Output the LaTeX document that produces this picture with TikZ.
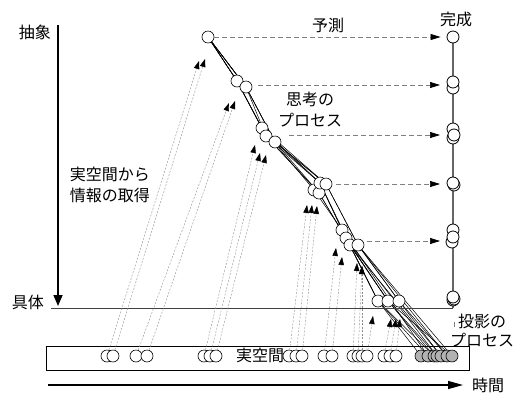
\documentclass[tikz,border=0pt]{standalone}
\usepackage{fontspec}
\newfontfamily\jp{Noto Sans CJK JP}
\usetikzlibrary{arrows.meta}
\pgfdeclarelayer{bg}
\pgfsetlayers{bg,main}
\begin{document}
\begin{tikzpicture}[x=1pt,y=-1pt,
  pt/.style={circle,draw,fill=white,minimum size=12pt,inner sep=0pt,line width=0.6pt},
  gpt/.style={pt,fill=black!30},
  rpt/.style={pt,line width=0.8pt},
  lbl/.style={font=\jp\fontsize{16}{19}\selectfont,inner sep=0pt},
  chain/.style={line width=0.5pt},
  info/.style={black!45,line width=0.4pt,dash pattern=on 2pt off 1.5pt,-{Triangle[length=8pt,width=5.5pt,color=black]}},
  pred/.style={black!50,line width=0.7pt,dash pattern=on 5pt off 3pt,-{Triangle[length=10pt,width=6pt,color=black]}},
  axis/.style={line width=1.6pt,-{Triangle[length=11pt,width=9pt]}},
]
\useasboundingbox (0,0) rectangle (515,392);

% ---- labels
\node[lbl] (abs) at (35,32) {抽象};
\node[lbl] (con) at (28,302) {具体};
\node[lbl] (yos) at (328,25) {予測};
\node[lbl] (kan) at (456,19) {完成};
\node[lbl] (shi1) at (310,99) {思考の};
\node[lbl] (shi2) at (310,120) {プロセス};
\node[lbl] (jo1) at (110,174) {実空間から};
\node[lbl] (jo2) at (110,195) {情報の取得};
\node[lbl] (to1) at (482,321) {投影の};
\node[lbl] (to2) at (482,340) {プロセス};
\node[lbl] (jik) at (488,385) {時間};

% ---- axes, box, base line
\coordinate (ax1) at (58,25);
\coordinate (ax2) at (58,306);
\draw[axis] (ax1) -- (ax2);
\coordinate (tm1) at (48,385);
\coordinate (tm2) at (463,385);
\draw[line width=1.3pt,-{Triangle[length=15pt,width=8pt]}] (tm1) -- (tm2);
\node[draw,line width=0.7pt,minimum width=423pt,minimum height=24pt,inner sep=0pt] (box) at (257.5,358) {};
\node[lbl,fill=white,inner xsep=1pt] (jk) at (260,355) {実空間};
\coordinate (bl1) at (51,308);
\coordinate (bl2) at (453,308);
\draw[black!75,line width=0.9pt] (bl1) -- (bl2);
\coordinate (rv1) at (453,37);
\draw[black!60,line width=1.2pt] (rv1) -- (bl2);
\coordinate (tk1) at (454,322);
\coordinate (tk2) at (454,327);
\draw[black!50,line width=0.5pt] (tk1) -- (tk2);

% ---- right-hand (completion) circles
\node[rpt] (r1) at (453,37) {};
\node[rpt] (r2b) at (453,88) {};
\node[rpt] (r2a) at (453,82) {};
\node[rpt] (r3a) at (453,129) {};
\node[rpt] (r3c) at (453,138) {};
\node[rpt] (r3b) at (454,135) {};
\node[rpt] (r4b) at (454,185) {};
\node[rpt] (r4a) at (453,183) {};
\node[rpt] (r5a) at (453,230) {};
\node[rpt] (r5c) at (452,242) {};
\node[rpt] (r5b) at (453,237) {};
\node[rpt] (r6c) at (453,300) {};
\node[rpt] (r6b) at (454,299) {};
\node[rpt] (r6a) at (453,297) {};

% ---- chain nodes
\node[pt] (a) at (208,37) {};
\node[pt] (b1) at (237,81) {};
\node[pt] (b2) at (246,87) {};
\node[pt] (c1) at (262,128) {};
\node[pt] (c2) at (266,136) {};
\node[pt] (c3) at (275,142) {};
\node[pt] (d3) at (314,190) {};
\node[pt] (d4) at (319,193) {};
\node[pt] (d1) at (320,183) {};
\node[pt] (d2) at (326,184) {};
\node[pt] (e1) at (342,230) {};
\node[pt] (e2) at (346,238) {};
\node[pt] (e3) at (350,245) {};
\node[pt] (e4) at (358,245) {};
\node[pt] (f1) at (378,301) {};
\node[pt] (f2) at (388,301) {};
\node[pt] (f3) at (399,301) {};
\foreach \n/\x in {1/421,2/428,3/434,4/437,5/441,6/447,7/452}
  \node[gpt] (g\n) at (\x,356) {};

% ---- real-space circles
\foreach \n/\x in {1/107,2/113,3/136,4/147,5/204,6/210,7/216,8/289,9/296,10/302,
                   11/324,12/332,13/353,14/358,15/362,16/367,17/384,18/390,19/396}
  \node[pt] (s\n) at (\x,356) {};

% ---- chain lines (behind the circles)
\begin{pgfonlayer}{bg}
\foreach \p in {a/b1/c1/d3/e1/f1/g1, a/b1/c1/d1/e3/f1/g2, a/b1/c2/d4/e3/f2/g3,
                a/b2/c2/d1/e2/f2/g4, a/b2/c3/d2/e4/f3/g5, a/b2/c3/d2/e4/f3/g6,
                a/b1/c2/d4/e3/f2/g7, a/b2/c3/d1/e1/f1/g3}{
  \foreach \u/\v/\w/\x/\y/\z/\q in \p
    \draw[chain] (\u.center) -- (\v.center) -- (\w.center) -- (\x.center)
                 -- (\y.center) -- (\z.center) -- (\q.center);
}
\draw[chain] (e1.center) -- (g2.center);
\draw[chain] (e2.center) -- (g4.center);
\draw[chain] (e3.center) -- (g5.center);
\draw[chain] (e4.center) -- (g7.center);
\draw[chain] (e4.center) -- (g6.center);
\draw[chain] (c3.center) -- (d4.center);
\draw[chain] (c1.center) -- (d2.center);
\end{pgfonlayer}

% ---- prediction arrows
\coordinate (h2) at (258,85);  \coordinate (k2) at (440,85);
\coordinate (h3) at (289,135); \coordinate (k3) at (440,135);
\coordinate (h4) at (336,184); \coordinate (k4) at (440,184);
\coordinate (h5) at (367,241); \coordinate (k5) at (440,241);
\draw[pred,shorten >=6pt] (a) -- (r1);
\draw[pred] (h2) -- (k2);
\draw[pred] (h3) -- (k3);
\draw[pred] (h4) -- (k4);
\draw[pred] (h5) -- (k5);

% ---- information acquisition arrows
\foreach \n/\tx/\ty in {1/199/61,2/205/59,3/229/103,4/235/101,5/255/145,6/260/153,
                        7/266/155,8/307/205,9/312/205,10/317/206,11/336/248,12/342/257,
                        13/357/263,14/362/266,15/362/266,16/373/316,17/391/319,
                        18/396/319,19/400/319}{
  \coordinate (t\n) at (\tx,\ty);
  \draw[info] (s\n) -- (t\n);
}
\end{tikzpicture}
\end{document}
